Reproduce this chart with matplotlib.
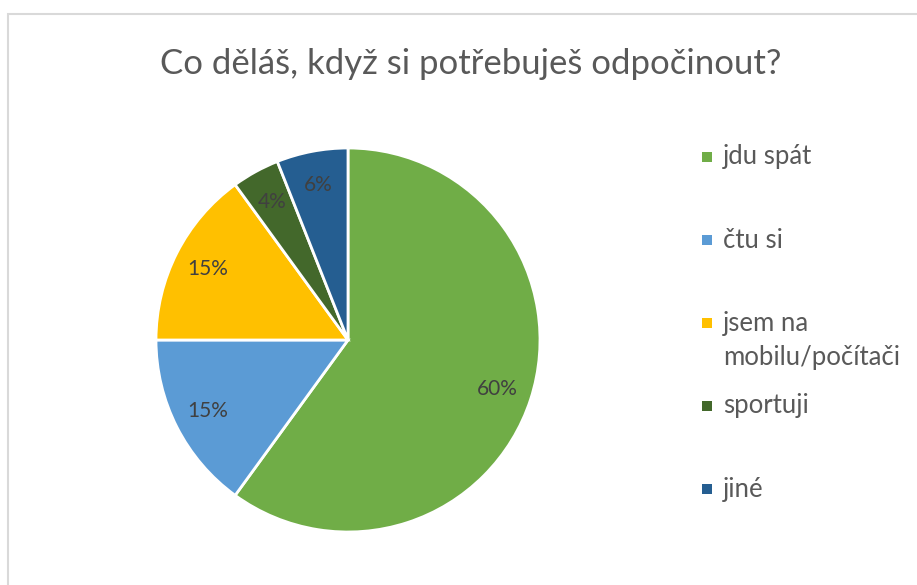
import matplotlib.pyplot as plt
from matplotlib.patches import Rectangle

# data
labels = ['jdu spát', 'čtu si', 'jsem na\nmobilu/počítači', 'sportuji', 'jiné']
values = [60, 15, 15, 4, 6]
colors = ['#70AD47', '#5B9BD5', '#FFC000', '#43682B', '#255E91']
title = 'Co děláš, když si potřebuješ odpočinout?'

plt.rcParams['font.family'] = ['Lato', 'DejaVu Sans']

W, H = 917, 585
fig = plt.figure(figsize=(W / 100, H / 100), dpi=100)

# chart frame (light grey border, runs off right/bottom)
fig.patches.append(Rectangle((8 / W, -0.05), 1.0, (H - 14) / H + 0.05,
                             transform=fig.transFigure, fill=False,
                             edgecolor='#D9D9D9', linewidth=1.5))

fig.text(471 / W, 1 - 64 / H, title, ha='center', va='center',
         fontsize=25, color='#595959')

# pie, centred at (348, 340) px with radius 192 px
cx, cy, r = 348, 340, 192
ax = fig.add_axes([(cx - r) / W, (H - cy - r) / H, 2 * r / W, 2 * r / H])
wedges, texts, autotexts = ax.pie(
    values, colors=colors, startangle=90, counterclock=False,
    autopct='%1.0f%%', pctdistance=0.82,
    wedgeprops=dict(edgecolor='white', linewidth=2),
    textprops=dict(fontsize=15, color='#404040'))
ax.set_xlim(-1.0, 1.0)
ax.set_ylim(-1.0, 1.0)
ax.axis('off')

# legend drawn by hand, entries every 83 px
for i, (lab, col) in enumerate(zip(labels, colors)):
    y = 157 + 83 * i
    fig.patches.append(Rectangle(((707 - 5) / W, 1 - (y + 5) / H), 10 / W, 10 / H,
                                 transform=fig.transFigure, facecolor=col,
                                 edgecolor='none'))
    for k, line in enumerate(lab.split('\n')):
        fig.text(723 / W, 1 - (y + 34 * k) / H, line, ha='left', va='center',
                 fontsize=18.5, color='#595959')

fig.savefig('out.png', dpi=100)
